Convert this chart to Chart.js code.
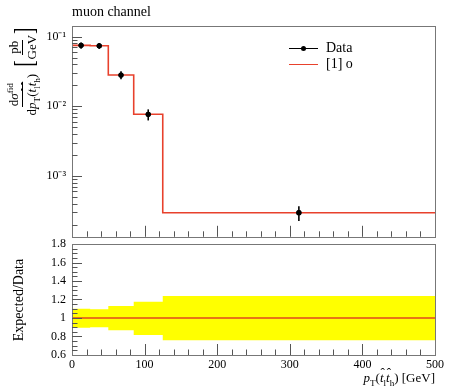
<!DOCTYPE html>
<html>
<head>
<meta charset="utf-8">
<script src="https://cdn.jsdelivr.net/npm/chart.js@4"></script>
<style>
  html, body { margin:0; padding:0; background:#fff; }
  #wrap { position:relative; width:450px; height:390px; overflow:hidden; font-family:'Liberation Serif', serif; color:#000; }
  canvas { position:absolute; left:0; }
  .txt { position:absolute; white-space:nowrap; }
  .frac { display:inline-flex; flex-direction:column; align-items:center; vertical-align:middle; }
  .frac .num { border-bottom:1px solid #000; padding:0 1px 1px 1px; line-height:1.1; }
  .frac .den { line-height:1.2; padding:1px 1px 0 1px; }
  sup, sub { font-size:70%; line-height:0; }
  .hat { position:relative; display:inline-block; }
  .hat .h { position:absolute; left:0.05em; top:-0.42em; font-style:normal; }
  .brk { display:inline-block; font-size:19px; line-height:1; transform:scaleY(1.45); }
</style>
</head>
<body>
<div id="wrap">
  <canvas id="main" width="450" height="250" style="top:0;width:450px;height:250px"></canvas>
  <canvas id="ratio" width="450" height="160" style="top:230px;width:450px;height:160px"></canvas>

  <div class="txt" style="left:72px;top:4px;font-size:14px;">muon channel</div>

  <div class="txt" id="ytitle" style="left:-27px;top:53px;width:100px;height:38px;display:flex;align-items:center;justify-content:center;transform:rotate(-90deg);font-size:13px;">
    <span class="frac"><span class="num">d<i>σ</i><sup>fid</sup></span><span class="den">d<i>p</i><sub>T</sub>(<span class="hat"><i>t</i><span class="h">ˆ</span></span><sub>l</sub><span class="hat"><i>t</i><span class="h">ˆ</span></span><sub>h</sub>)</span></span>
    <span class="brk" style="margin-left:6px;">[</span><span class="frac" style="font-size:13px;"><span class="num">pb</span><span class="den">GeV</span></span><span class="brk">]</span>
  </div>

  <div class="txt" style="left:-23px;top:291px;width:86px;height:18px;text-align:center;transform:rotate(-90deg);font-size:14px;">Expected/Data</div>

  <div class="txt" style="right:15px;top:370px;font-size:13px;"><i>p</i><sub>T</sub>(<span class="hat"><i>t</i><span class="h">ˆ</span></span><sub>l</sub><span class="hat"><i>t</i><span class="h">ˆ</span></span><sub>h</sub>) [GeV]</div>

  <!-- legend -->
  <div style="position:absolute;left:289px;top:48px;width:29px;height:1.3px;background:#000;"></div>
  <div style="position:absolute;left:301px;top:46px;width:5px;height:5px;border-radius:50%;background:#000;"></div>
  <div class="txt" style="left:326px;top:40px;font-size:14px;">Data</div>
  <div style="position:absolute;left:289px;top:64px;width:29px;height:1.3px;background:#e8412c;"></div>
  <div class="txt" style="left:326px;top:56px;font-size:14px;">[1] o</div>
</div>

<script>
// ---------- data ----------
const binEdges    = [0, 25, 50, 85, 125, 500];
const binCenters  = [12.5, 37.5, 67.5, 105, 312.5];
const dataValues  = [0.075, 0.074, 0.0281, 0.00767, 0.000296];
const dataRelErrUp   = [0.100, 0.094, 0.130, 0.176, 0.238];
const dataRelErrDown = [0.105, 0.100, 0.133, 0.184, 0.241];
const mcValues    = [0.075, 0.074, 0.0281, 0.00767, 0.000296];
const xTickValues = [0, 100, 200, 300, 400, 500];
const yLogTickValues = [1e-3, 1e-2, 1e-1];
const yLogTickLabels = ['10⁻³', '10⁻²', '10⁻¹'];
const ratioTickValues = [0.6, 0.8, 1.0, 1.2, 1.4, 1.6, 1.8];
const ratioTickLabels = ['0.6', '0.8', '1', '1.2', '1.4', '1.6', '1.8'];

// ---------- styling ----------
const RED = '#e8412c';
const FRAME = '#777';
const FONT = "'Liberation Serif', serif";
Chart.defaults.font.family = FONT;
Chart.defaults.color = '#000';

function stepPoints(edges, vals) {
  const pts = vals.map((v, i) => ({ x: edges[i], y: v }));
  pts.push({ x: edges[edges.length - 1], y: vals[vals.length - 1] });
  return pts;
}

function drawTick(ctx, x1, y1, x2, y2) {
  ctx.beginPath(); ctx.moveTo(x1, y1); ctx.lineTo(x2, y2); ctx.stroke();
}

// frame + inward ticks plugin
function framePlugin(opts) {
  return {
    id: 'frameTicks',
    afterDraw(chart) {
      const { ctx, chartArea: a, scales } = chart;
      ctx.save();
      ctx.strokeStyle = FRAME; ctx.lineWidth = 1;
      ctx.strokeRect(Math.round(a.left) + 0.5, Math.round(a.top) + 0.5, Math.round(a.right - a.left), Math.round(a.bottom - a.top));
      ctx.strokeStyle = '#555';
      const xs = scales.x;
      for (let v = 20; v < 500; v += 20) {
        const px = Math.round(xs.getPixelForValue(v)) + 0.5;
        const len = (v % 100 === 0) ? 11 : 5.5;
        drawTick(ctx, px, a.bottom, px, a.bottom - len);
      }
      const ys = scales.y;
      if (opts.log) {
        for (let e = -5; e <= 0; e++) {
          for (let m = 1; m <= 9; m++) {
            const v = m * Math.pow(10, e);
            if (v < ys.min || v > ys.max) continue;
            const py = Math.round(ys.getPixelForValue(v)) + 0.5;
            drawTick(ctx, a.left, py, a.left + (m === 1 ? 10 : 5.5), py);
          }
        }
      } else {
        for (let k = 12; k <= 36; k++) {
          const v = k * 0.05;
          const py = Math.round(ys.getPixelForValue(v)) + 0.5;
          const major = (k % 4 === 0);
          if (Math.abs(py - a.top) < 1 || Math.abs(py - a.bottom) < 1) continue;
          drawTick(ctx, a.left, py, a.left + (major ? 10 : 5.5), py);
        }
      }
      ctx.restore();
    }
  };
}

// error bars plugin for main chart
const errorBarPlugin = {
  id: 'errorBars',
  afterDatasetsDraw(chart) {
    const { ctx, scales } = chart;
    ctx.save();
    ctx.strokeStyle = '#000'; ctx.lineWidth = 1.6;
    dataValues.forEach((v, i) => {
      const px = scales.x.getPixelForValue(binCenters[i]);
      const yTop = scales.y.getPixelForValue(v * (1 + dataRelErrUp[i]));
      const yBot = scales.y.getPixelForValue(v * (1 - dataRelErrDown[i]));
      drawTick(ctx, px, yTop, px, yBot);
      ctx.fillStyle = '#000';
      ctx.beginPath(); ctx.arc(px, scales.y.getPixelForValue(v), 2.6, 0, Math.PI * 2); ctx.fill();
    });
    ctx.restore();
  }
};

// ---------- main panel ----------
new Chart(document.getElementById('main'), {
  type: 'line',
  data: {
    datasets: [
      {
        label: '[1] o',
        data: stepPoints(binEdges, mcValues),
        stepped: true,
        borderColor: RED, borderWidth: 1.6,
        pointRadius: 0, fill: false
      },
      {
        label: 'Data',
        type: 'scatter',
        data: binCenters.map((x, i) => ({ x, y: dataValues[i] })),
        showLine: false, order: -1,
        pointRadius: 2.6, pointBackgroundColor: '#000', pointBorderColor: '#000', pointBorderWidth: 0
      }
    ]
  },
  options: {
    responsive: false, animation: false, devicePixelRatio: 1,
    layout: { padding: { top: 26, right: 15, left: 0, bottom: 0 } },
    plugins: { legend: { display: false }, tooltip: { enabled: false } },
    scales: {
      x: {
        type: 'linear', min: 0, max: 500,
        grid: { display: false, drawTicks: false }, border: { display: false },
        ticks: { display: false },
        afterFit(s) { s.height = 6; }
      },
      y: {
        type: 'logarithmic', min: Math.pow(10, -3.875), max: Math.pow(10, -0.847),
        grid: { display: false, drawTicks: false }, border: { display: false },
        afterBuildTicks(s) { s.ticks = yLogTickValues.map(v => ({ value: v })); },
        ticks: {
          autoSkip: false, padding: 6, font: { size: 12, family: FONT },
          callback(v) { const i = yLogTickValues.findIndex(t => Math.abs(t - v) / t < 1e-6); return i >= 0 ? yLogTickLabels[i] : ''; }
        },
        afterFit(s) { s.width = 72; }
      }
    }
  },
  plugins: [errorBarPlugin, framePlugin({ log: true })]
});

// ---------- ratio panel ----------
const ratioValues = mcValues.map((m, i) => m / dataValues[i]);
const bandUp = dataRelErrUp.map(e => 1 + e);
const bandDown = dataRelErrDown.map(e => 1 - e);

new Chart(document.getElementById('ratio'), {
  type: 'line',
  data: {
    datasets: [
      { data: stepPoints(binEdges, bandUp), stepped: true, borderWidth: 0, borderColor: 'rgba(0,0,0,0)', pointRadius: 0, fill: false, order: 2 },
      { data: stepPoints(binEdges, bandDown), stepped: true, borderWidth: 0, borderColor: 'rgba(0,0,0,0)', pointRadius: 0, fill: '-1', backgroundColor: '#ffff00', order: 1 },
      { data: stepPoints(binEdges, ratioValues), stepped: true, borderColor: '#e0481c', borderWidth: 1.4, pointRadius: 0, fill: false, order: -1 }
    ]
  },
  options: {
    responsive: false, animation: false, devicePixelRatio: 1,
    layout: { padding: { top: 14, right: 15, left: 0, bottom: 0 } },
    plugins: { legend: { display: false }, tooltip: { enabled: false }, filler: { propagate: false } },
    scales: {
      x: {
        type: 'linear', min: 0, max: 500,
        grid: { display: false, drawTicks: false }, border: { display: false },
        afterBuildTicks(s) { s.ticks = xTickValues.map(v => ({ value: v })); },
        ticks: { autoSkip: false, maxRotation: 0, padding: 3, font: { size: 12, family: FONT } },
        afterFit(s) { s.height = 35; }
      },
      y: {
        type: 'linear', min: 0.6, max: 1.8,
        grid: { display: false, drawTicks: false }, border: { display: false },
        afterBuildTicks(s) { s.ticks = ratioTickValues.map(v => ({ value: v })); },
        ticks: {
          autoSkip: false, padding: 6, font: { size: 12, family: FONT },
          callback(v) { const i = ratioTickValues.findIndex(t => Math.abs(t - v) < 1e-6); return i >= 0 ? ratioTickLabels[i] : ''; }
        },
        afterFit(s) { s.width = 72; }
      }
    }
  },
  plugins: [framePlugin({ log: false })]
});
</script>
</body>
</html>
